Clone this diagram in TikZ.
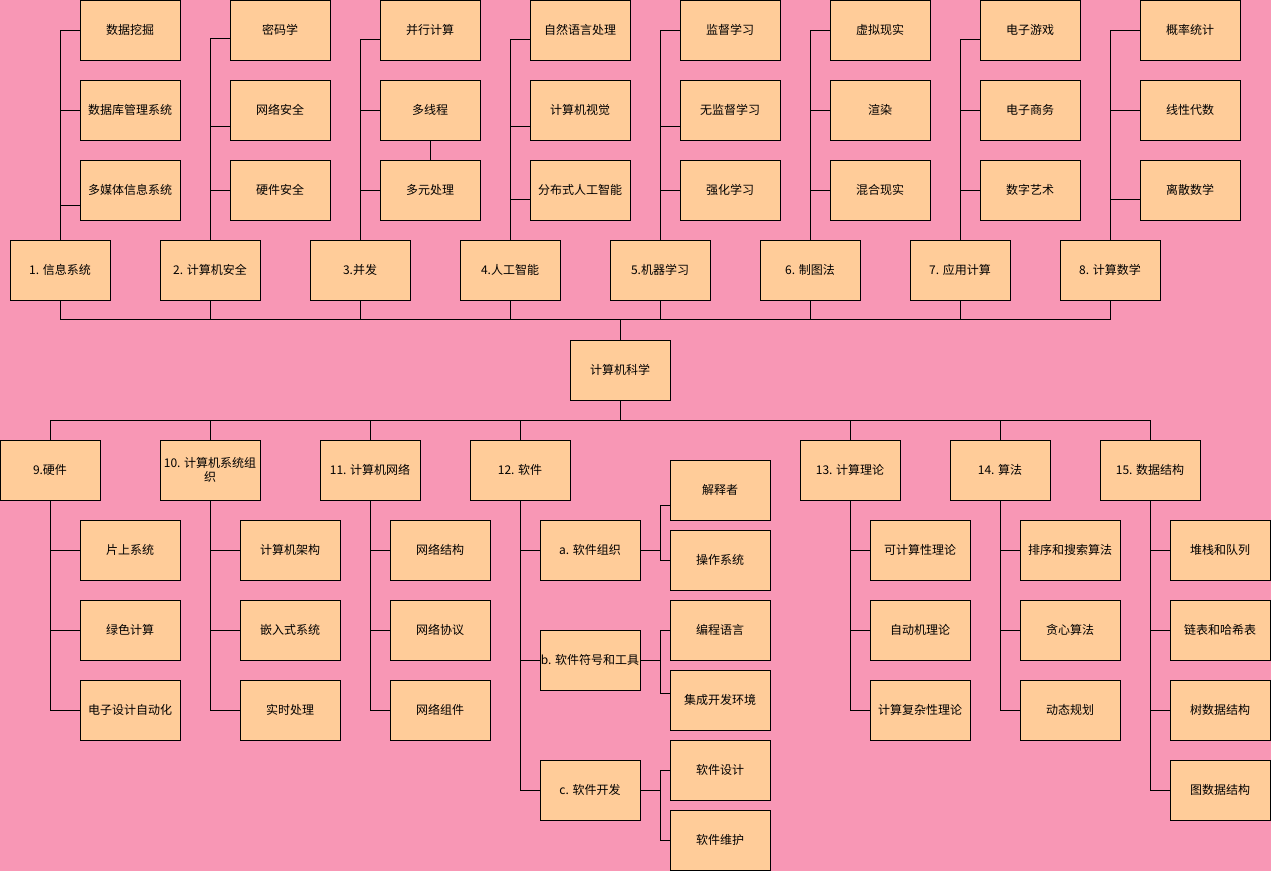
\documentclass[tikz,border=0pt]{standalone}
\usepackage{fontspec}
\setmainfont{Noto Sans CJK SC}
\usetikzlibrary{calc}
\definecolor{bg}{HTML}{F897B5}
\definecolor{boxc}{HTML}{FFCC99}
\begin{document}
\begin{tikzpicture}[x=0.75pt,y=-0.75pt,
  box/.style={draw=black,fill=boxc,line width=0.75pt,minimum width=75pt,minimum height=45pt,inner sep=0pt,align=center,font=\fontsize{9pt}{11pt}\selectfont,text=black},
  link/.style={draw=black,line width=0.75pt}]
\fill[bg] (0,0) rectangle (1271,871);
\useasboundingbox (0,0) rectangle (1271,871);
% ---------- upper half ----------
\node[box] (m1) at (60,270) {1. 信息系统};
\node[box] (m2) at (210,270) {2. 计算机安全};
\node[box] (m3) at (360,270) {3.并发};
\node[box] (m4) at (510,270) {4.人工智能};
\node[box] (m5) at (660,270) {5.机器学习};
\node[box] (m6) at (810,270) {6. 制图法};
\node[box] (m7) at (960,270) {7. 应用计算};
\node[box] (m8) at (1110,270) {8. 计算数学};
\node[box] (c11) at (130,30) {数据挖掘};
\node[box] (c12) at (130,110) {数据库管理系统};
\node[box] (c13) at (130,190) {多媒体信息系统};
\node[box] (c21) at (280,30) {密码学};
\node[box] (c22) at (280,110) {网络安全};
\node[box] (c23) at (280,190) {硬件安全};
\node[box] (c31) at (430,30) {并行计算};
\node[box] (c32) at (430,110) {多线程};
\node[box] (c33) at (430,190) {多元处理};
\node[box] (c41) at (580,30) {自然语言处理};
\node[box] (c42) at (580,110) {计算机视觉};
\node[box] (c43) at (580,190) {分布式人工智能};
\node[box] (c51) at (730,30) {监督学习};
\node[box] (c52) at (730,110) {无监督学习};
\node[box] (c53) at (730,190) {强化学习};
\node[box] (c61) at (880,30) {虚拟现实};
\node[box] (c62) at (880,110) {渲染};
\node[box] (c63) at (880,190) {混合现实};
\node[box] (c71) at (1030,30) {电子游戏};
\node[box] (c72) at (1030,110) {电子商务};
\node[box] (c73) at (1030,190) {数字艺术};
\node[box] (c81) at (1190,30) {概率统计};
\node[box] (c82) at (1190,110) {线性代数};
\node[box] (c83) at (1190,190) {离散数学};
\node[box] (root) at (620,370) {计算机科学};
% upper connectors
\draw[link] (m1.north) |- (c11.west);
\draw[link] (m1.north) |- (c12.west);
\draw[link] (m1.north) |- ($(c13.west)+(0,15)$);
\draw[link] (m2.north) |- ($(c21.west)+(0,8)$);
\draw[link] (m2.north) |- ($(c22.west)+(0,16)$);
\draw[link] (m2.north) |- (c23.west);
\draw[link] (m3.north) |- ($(c31.west)+(0,9)$);
\draw[link] (m3.north) |- (c32.west);
\draw[link] (m3.north) |- (c33.west);
\draw[link] (c32.south) -- (c33.north);
\draw[link] (m4.north) |- ($(c41.west)+(0,9)$);
\draw[link] (m4.north) |- ($(c42.west)+(0,16)$);
\draw[link] (m4.north) |- ($(c43.west)+(0,9)$);
\draw[link] (m5.north) |- (c51.west);
\draw[link] (m5.north) |- ($(c52.west)+(0,16)$);
\draw[link] (m5.north) |- (c53.west);
\draw[link] (m6.north) |- (c61.west);
\draw[link] (m6.north) |- (c62.west);
\draw[link] (m6.north) |- (c63.west);
\draw[link] (m7.north) |- ($(c71.west)+(0,9)$);
\draw[link] (m7.north) |- (c72.west);
\draw[link] (m7.north) |- (c73.west);
\draw[link] (m8.north) |- (c81.west);
\draw[link] (m8.north) |- (c82.west);
\draw[link] (m8.north) |- ($(c83.west)+(0,9)$);
\foreach \m in {m1,m2,m3,m4,m5,m6,m7,m8}
  \draw[link] (root.north) -- ++(0,-20) -| (\m.south);
% ---------- lower half ----------
\node[box] (l9) at (50,470) {9.硬件};
\node[box] (l10) at (210,470) {10. 计算机系统组\\织};
\node[box] (l11) at (370,470) {11. 计算机网络};
\node[box] (l12) at (520,470) {12. 软件};
\node[box] (l13) at (850,470) {13. 计算理论};
\node[box] (l14) at (1000,470) {14. 算法};
\node[box] (l15) at (1150,470) {15. 数据结构};
\foreach \m in {l9,l10,l11,l12,l13,l14,l15}
  \draw[link] (root.south) -- ++(0,20) -| (\m.north);
\node[box] (c91) at (130,550) {片上系统};
\node[box] (c92) at (130,630) {绿色计算};
\node[box] (c93) at (130,710) {电子设计自动化};
\node[box] (c101) at (290,550) {计算机架构};
\node[box] (c102) at (290,630) {嵌入式系统};
\node[box] (c103) at (290,710) {实时处理};
\node[box] (c111) at (440,550) {网络结构};
\node[box] (c112) at (440,630) {网络协议};
\node[box] (c113) at (440,710) {网络组件};
\node[box] (sa) at (590,550) {a. 软件组织};
\node[box] (sb) at (590,660) {b. 软件符号和工具};
\node[box] (sc) at (590,790) {c. 软件开发};
\node[box] (f1) at (720,490) {解释者};
\node[box] (f2) at (720,560) {操作系统};
\node[box] (f3) at (720,630) {编程语言};
\node[box] (f4) at (720,700) {集成开发环境};
\node[box] (f5) at (720,770) {软件设计};
\node[box] (f6) at (720,840) {软件维护};
\node[box] (c131) at (920,550) {可计算性理论};
\node[box] (c132) at (920,630) {自动机理论};
\node[box] (c133) at (920,710) {计算复杂性理论};
\node[box] (c141) at (1070,550) {排序和搜索算法};
\node[box] (c142) at (1070,630) {贪心算法};
\node[box] (c143) at (1070,710) {动态规划};
\node[box] (c151) at (1220,550) {堆栈和队列};
\node[box] (c152) at (1220,630) {链表和哈希表};
\node[box] (c153) at (1220,710) {树数据结构};
\node[box] (c154) at (1220,790) {图数据结构};
% lower connectors
\foreach \c in {c91,c92,c93} \draw[link] (l9.south) |- (\c.west);
\foreach \c in {c101,c102,c103} \draw[link] (l10.south) |- (\c.west);
\foreach \c in {c111,c112,c113} \draw[link] (l11.south) |- (\c.west);
\foreach \c in {sa,sb,sc} \draw[link] (l12.south) |- (\c.west);
\foreach \c in {c131,c132,c133} \draw[link] (l13.south) |- (\c.west);
\foreach \c in {c141,c142,c143} \draw[link] (l14.south) |- (\c.west);
\foreach \c in {c151,c152,c153,c154} \draw[link] (l15.south) |- (\c.west);
\draw[link] (sa.east) -- ++(20,0) |- ($(f1.west)+(0,15)$);
\draw[link] (sa.east) -- ++(20,0) |- (f2.west);
\draw[link] (sb.east) -- ++(20,0) |- (f3.west);
\draw[link] (sb.east) -- ++(20,0) |- ($(f4.west)+(0,-7)$);
\draw[link] (sc.east) -- ++(20,0) |- (f5.west);
\draw[link] (sc.east) -- ++(20,0) |- (f6.west);
\end{tikzpicture}
\end{document}
